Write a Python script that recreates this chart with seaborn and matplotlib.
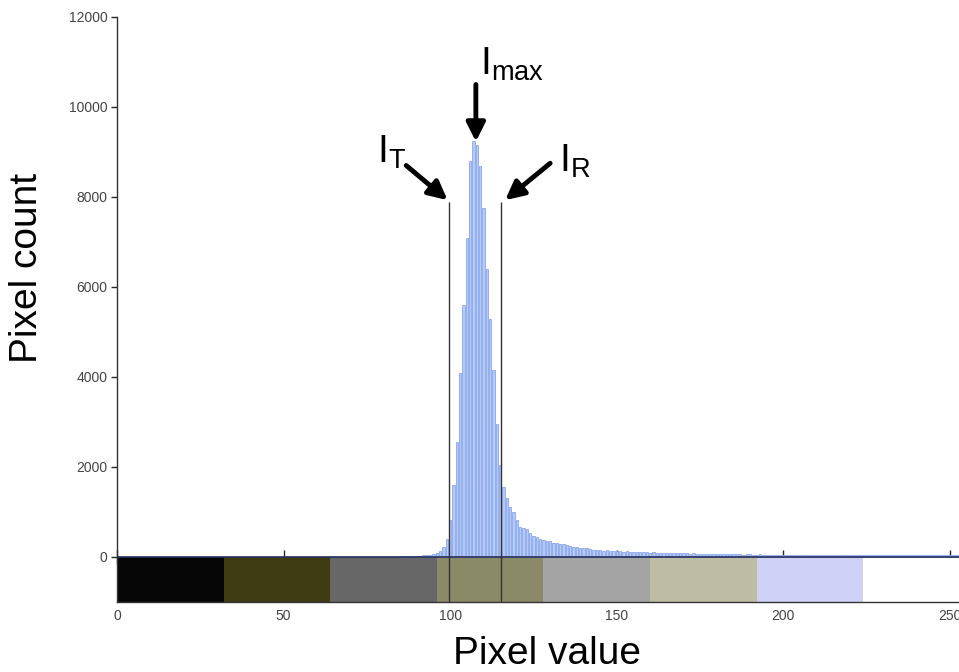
import numpy as np
import pandas as pd
import matplotlib
matplotlib.use('Agg')
import matplotlib.pyplot as plt
import seaborn as sns

# histogram counts, pixel values 85..255
first_value = 85
counts = [
    10, 15, 12, 20, 25, 22, 30, 35, 40, 45, 60, 90,
    130, 220, 400,
    820, 1600, 2560, 4100, 5600, 7100, 8800, 9250, 9150, 8700, 7750, 6400, 5300, 4150, 2950,
    2050, 1550, 1310, 1110, 1000, 820, 660, 640, 620, 530, 460, 440, 390, 380, 360,
    350, 320, 310, 300, 290, 260, 240, 230, 220, 200, 200, 190, 180, 160, 150, 150,
    140, 145, 135, 130, 140, 125, 120, 130, 115, 120, 110, 115, 105, 110, 100,
    105, 95, 100, 90, 95, 90, 85, 90, 80, 85,
    80, 75, 80, 70, 75, 70, 72, 65, 70, 68, 62, 65, 60, 64, 58,
    62, 60, 55, 58, 60, 55, 52, 56, 50, 54, 52, 50, 48, 52, 50,
    48, 45, 50, 46, 44, 48, 42, 46, 45, 43, 47, 44, 42, 45, 40, 44, 43, 41, 45, 42,
    40, 44, 41, 43, 40, 42, 45, 41, 40, 43, 42, 44, 40, 41, 43, 40, 42, 44, 41, 40,
    43, 45, 42, 40, 44, 41, 43, 42, 40, 45, 43, 41, 44, 42, 46,
]
pixel_values = np.arange(first_value, first_value + len(counts))

# grey-level colour strip under the histogram
block_starts = [0, 32, 64, 96, 128, 160, 192, 224]
block_colors = ['#050505', '#3e3b12', '#676767', '#8b8a68',
                '#a4a4a4', '#bdbda4', '#cfd2f6', '#ffffff']

# threshold lines and labels
line_x = [99.7, 115.3]
line_top = 7880
labels = [r'$\mathregular{I_T}$', r'$\mathregular{I_{max}}$', r'$\mathregular{I_R}$']
label_xy = [(82.5, 9000), (118.5, 10950), (137.5, 8800)]
arrow_tail = [(86.8, 8700), (107.7, 10500), (130.0, 8750)]
arrow_head = [(99.2, 7930), (107.7, 9230), (116.5, 7930)]

sns.set_style('white')
plt.rcParams['font.family'] = ['Liberation Sans', 'DejaVu Sans']
plt.rcParams['mathtext.fontset'] = 'custom'
plt.rcParams['mathtext.rm'] = 'Liberation Sans'
plt.rcParams['text.color'] = 'black'
plt.rcParams['axes.labelcolor'] = 'black'

fig = plt.figure(figsize=(9.59, 6.72), dpi=100)
ax = fig.add_axes([117 / 959, 1 - 602 / 672, 1 - 117 / 959, (602 - 17) / 672])

df = pd.DataFrame({'value': pixel_values, 'count': counts})
sns.barplot(data=df, x='value', y='count', native_scale=True, width=0.7,
            color='#b5cbf7', edgecolor='#7b98e6', linewidth=0.5,
            saturation=1, errorbar=None, ax=ax, zorder=2)

ax.bar(block_starts, height=1000, bottom=-1000, width=32, align='edge',
       color=block_colors, linewidth=0, zorder=1)
ax.axhline(0, color='#25305a', lw=1.2, zorder=3)
ax.vlines(line_x, -1000, line_top, color='#333333', lw=1.0, zorder=4)

for lab, xy, tail, head in zip(labels, label_xy, arrow_tail, arrow_head):
    ax.text(xy[0], xy[1], lab, fontsize=28, ha='center', va='center', color='black')
    ax.annotate('', xy=head, xytext=tail,
                arrowprops=dict(arrowstyle='-|>', lw=3.5, color='black',
                                mutation_scale=28, shrinkA=0, shrinkB=0))

ax.set_xlim(0, 252.7)
ax.set_ylim(-1000, 12000)
ax.set_xticks([0, 50, 100, 150, 200, 250])
ax.set_yticks([0, 2000, 4000, 6000, 8000, 10000, 12000])
ax.tick_params(axis='x', direction='in', length=7, width=1, labelsize=10,
               labelcolor='#444444', pad=5)
ax.tick_params(axis='y', direction='out', length=4, width=1, labelsize=10,
               labelcolor='#444444', left=True, pad=3)

# ticks on the zero line, like the original axis
zero_axis = ax.secondary_xaxis(1000 / 13000)
zero_axis.set_xticks([0, 50, 100, 150, 200, 250])
zero_axis.tick_params(direction='inout', length=10, width=1, labelbottom=False,
                      labeltop=False, bottom=False, top=True)
zero_axis.spines['top'].set_visible(False)
zero_axis.spines['bottom'].set_visible(False)

for side in ['top', 'right']:
    ax.spines[side].set_visible(False)
for side in ['left', 'bottom']:
    ax.spines[side].set_color('#333333')
    ax.spines[side].set_linewidth(1)

ax.set_xlabel('Pixel value', fontsize=28, color='black')
ax.set_ylabel('Pixel count', fontsize=28, color='black')
ax.xaxis.set_label_coords(0.511, -0.058)
ax.yaxis.set_label_coords(-0.086, 0.571)

fig.savefig('out.png', dpi=100)
